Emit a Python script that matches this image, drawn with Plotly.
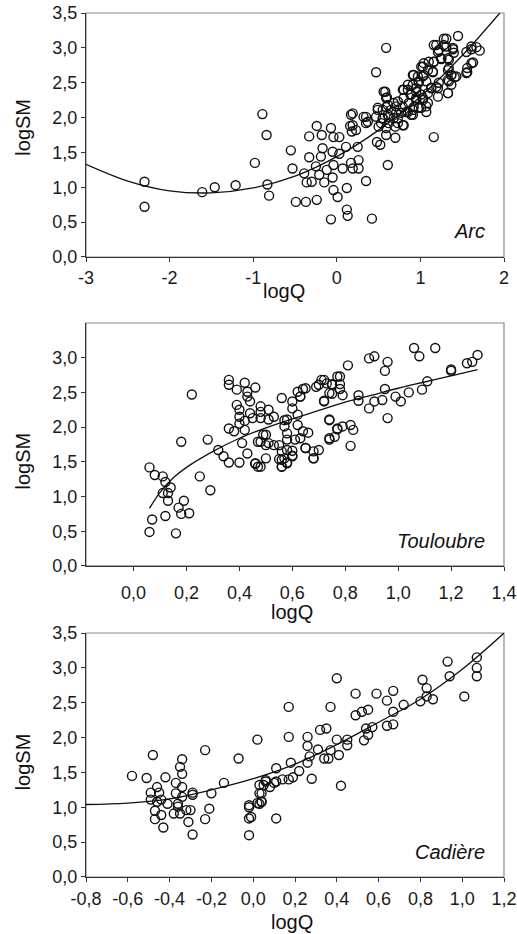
import plotly.graph_objects as go

# ---------------- Arc ----------------
arc_x = [-2.30, -2.30, -1.61, -1.46, -1.21, -0.98, -0.89, -0.84, -0.83, -0.81,
         -0.55, -0.53, -0.49, -0.37, -0.24, -0.39, -0.36, -0.30, -0.33, -0.33,
         -0.24, -0.18, -0.17, -0.19, -0.25, -0.21, -0.15, -0.12, -0.07, -0.04,
         -0.05, -0.04, -0.05, -0.04, 0.01, -0.07, 0.03, 0.03, 0.07, 0.12,
         0.12, 0.13, 0.11, 0.16, 0.18, 0.17, 0.19, 0.25, 0.26, 0.26,
         0.35, 0.42, 0.19, 0.23, 0.32, 0.35, 0.47, 0.59, 0.49, 0.48,
         0.52, 0.61, 0.50, 0.55, 0.58, 0.60, 0.59, 0.61, 0.59, 0.62,
         0.68, 0.71, 0.70, 0.70, 0.73, 0.79, 0.80, 0.80, 0.85, 0.88,
         0.85, 0.91, 0.92, 0.95, 0.92, 0.95, 0.98, 1.03, 1.04, 1.03,
         1.01, 1.07, 1.09, 1.13, 1.15, 1.16, 1.21, 1.16, 1.16, 1.21,
         1.25, 1.28, 1.31, 1.33, 1.34, 1.37, 1.33, 1.37, 1.33, 1.39,
         1.41, 1.45, 1.55, 1.56, 1.61, 1.61, 1.67, 1.71, 1.21,
         1.28, 1.19, 1.22, 1.31, 1.39, 1.40, 1.34, 1.25, 1.16, 1.10,
         1.04, 1.01, 1.09, 1.15, 0.91, 0.97, 1.03, 0.98, 1.07, 1.13,
         1.19, 1.22, 1.33, 1.37, 1.43, 1.34, 1.33, 1.61, 1.63, 1.56,
         1.55, 0.91, 0.85, 0.79, 0.80, 0.89, 0.95, 1.01, 1.03, 0.95,
         1.09, 1.07, 0.98, 0.91, 0.86, 0.73, 0.71, 0.65, 0.56, 0.59,
         0.61, 0.77, 0.83, 0.62, 0.55, 0.49, 0.55, 0.47, 0.35, 0.37,
         0.68, 0.73, 0.79, 0.89, 0.17, 0.19, 0.53, 0.59]
arc_y = [1.08, 0.72, 0.93, 1.00, 1.03, 1.35, 2.05, 1.75, 1.04, 0.88,
         1.53, 1.27, 0.79, 0.79, 0.82, 1.20, 1.07, 1.08, 1.43, 1.73,
         1.88, 1.75, 1.56, 1.44, 1.30, 1.18, 1.07, 1.25, 1.85, 1.72,
         1.51, 1.32, 1.14, 0.96, 0.86, 0.54, 1.72, 1.48, 1.27, 0.99,
         0.68, 0.59, 1.58, 1.88, 1.80, 1.35, 1.27, 1.58, 1.39, 1.27,
         1.09, 0.55, 2.06, 1.82, 2.01, 1.92, 2.65, 3.00, 2.11, 1.65,
         1.61, 1.32, 1.87, 1.99, 2.37, 2.29, 2.15, 2.04, 1.75, 1.92,
         2.21, 2.07, 1.87, 1.71, 1.99, 2.15, 1.89, 2.40, 2.47, 2.33,
         2.08, 2.04, 2.15, 2.28, 2.61, 2.42, 2.50, 2.73, 2.61, 2.28,
         2.14, 2.08, 2.21, 2.42, 2.65, 2.80, 2.42, 1.72, 3.04, 2.94,
         2.85, 3.04, 3.13, 2.85, 2.71, 2.61, 2.54, 2.47, 2.35, 3.00,
         2.58, 3.17, 2.94, 2.65, 2.78, 2.98, 3.01, 2.96, 2.30,
         3.13, 3.04, 2.97, 3.02, 2.98, 2.93, 2.83, 2.84, 2.80, 2.80,
         2.78, 2.73, 2.68, 2.66, 2.61, 2.59, 2.59, 2.52, 2.52, 2.43,
         2.44, 2.50, 2.68, 2.61, 2.59, 2.52, 2.35, 3.02, 2.79, 2.71,
         2.64, 2.47, 2.40, 2.40, 2.28, 2.33, 2.37, 2.33, 2.25, 2.25,
         2.35, 2.16, 2.14, 2.11, 2.21, 2.23, 2.16, 2.11, 2.37, 2.28,
         2.18, 2.07, 2.08, 2.01, 2.11, 2.14, 1.99, 2.01, 2.01, 1.94,
         1.99, 1.92, 1.89, 2.04, 2.04, 1.89, 1.92, 1.85]
arc_curve_x = [-3.0, -2.5, -2.0, -1.5, -1.0, -0.5, 0.0, 0.5, 1.0, 1.5, 1.95]
arc_curve_y = [1.33, 1.09, 0.95, 0.92, 0.99, 1.16, 1.44, 1.82, 2.30, 2.89, 3.50]

# ---------------- Touloubre ----------------
tou_x = [0.06, 0.08, 0.11, 0.12, 0.14, 0.11, 0.13, 0.13, 0.12, 0.07,
         0.06, 0.16, 0.18, 0.19, 0.17, 0.21, 0.18, 0.22, 0.25, 0.29,
         0.28, 0.32, 0.34, 0.36, 0.40, 0.36, 0.36, 0.39, 0.42, 0.43,
         0.43, 0.44, 0.46, 0.39, 0.40, 0.40, 0.40, 0.42, 0.44, 0.45,
         0.36, 0.38, 0.42, 0.41, 0.43, 0.46, 0.47, 0.47,
         0.48, 0.48, 0.51, 0.51, 0.48, 0.53, 0.56, 0.60, 0.62, 0.63,
         0.65, 0.60, 0.62, 0.57, 0.58, 0.62, 0.57, 0.58, 0.64, 0.66,
         0.63, 0.58, 0.61, 0.50, 0.48, 0.50, 0.53, 0.55, 0.58, 0.60,
         0.56, 0.57, 0.60, 0.55, 0.56, 0.58, 0.65, 0.68, 0.70, 0.68,
         0.50, 0.46, 0.48, 0.74, 0.74, 0.72, 0.70, 0.72, 0.75, 0.77,
         0.74, 0.76, 0.77,
         1.06, 1.08, 1.14, 1.30, 1.28, 1.26, 1.20, 1.20, 1.11, 1.09,
         1.04, 1.01, 0.99, 0.96, 0.95, 0.89, 0.91, 0.81, 0.96, 0.95,
         0.94, 0.91, 0.89, 0.85, 0.85, 0.78, 0.78, 0.78, 0.75, 0.73,
         0.71, 0.69, 0.75, 0.79, 0.72, 0.64, 0.63, 0.74, 0.82, 0.83,
         0.79, 0.77, 0.74, 0.82, 0.65, 0.68, 0.49, 0.51, 0.56, 0.56,
         0.58, 0.60]
tou_y = [1.42, 1.31, 1.29, 1.21, 1.13, 1.05, 1.05, 0.94, 0.72, 0.67,
         0.49, 0.47, 0.75, 0.94, 0.84, 0.76, 1.79, 2.47, 1.29, 1.09,
         1.82, 1.67, 1.58, 1.49, 1.49, 2.68, 2.61, 2.54, 2.64, 2.51,
         2.44, 2.37, 2.57, 2.32, 2.25, 2.15, 2.05, 2.09, 2.20, 2.13,
         1.98, 1.94, 1.96, 1.77, 1.62, 1.47, 1.43, 1.79,
         2.30, 2.22, 2.25, 2.11, 2.13, 2.15, 2.42, 2.37, 2.51, 2.44,
         2.56, 2.27, 2.18, 2.10, 2.11, 2.03, 2.01, 1.91, 1.94, 1.92,
         1.84, 1.82, 1.82, 1.89, 1.79, 1.74, 1.74, 1.74, 1.67, 1.66,
         1.65, 1.55, 1.58, 1.54, 1.43, 1.48, 1.70, 1.65, 1.67, 1.55,
         1.55, 1.48, 1.43, 2.10, 2.49, 2.37, 2.61, 2.68, 2.61, 2.73,
         1.84, 1.86, 1.98,
         3.14, 3.02, 3.14, 3.04, 2.94, 2.92, 2.83, 2.81, 2.66, 2.54,
         2.50, 2.37, 2.44, 2.94, 2.81, 2.99, 3.02, 2.89, 2.13, 2.55,
         2.39, 2.37, 2.27, 2.46, 2.38, 2.73, 2.62, 2.55, 2.62, 2.63,
         2.68, 2.58, 2.48, 2.46, 2.38, 2.55, 2.44, 2.11, 2.03, 1.96,
         2.01, 1.97, 1.82, 1.73, 1.70, 1.55, 1.89, 1.77, 1.53, 1.43,
         1.49, 1.59]
tou_curve_x = [0.06, 0.10, 0.15, 0.20, 0.30, 0.40, 0.50, 0.60, 0.70, 0.80,
               0.90, 1.00, 1.10, 1.20, 1.30]
tou_curve_y = [0.83, 1.06, 1.27, 1.42, 1.65, 1.84, 1.99, 2.12, 2.24, 2.36,
               2.46, 2.56, 2.65, 2.74, 2.83]

# ---------------- Cadière ----------------
cad_x = [-0.58, -0.51, -0.48, -0.49, -0.49, -0.46, -0.45, -0.46, -0.47, -0.47,
         -0.44, -0.44, -0.43, -0.42, -0.41, -0.37, -0.37, -0.38, -0.36, -0.36,
         -0.35, -0.34, -0.35, -0.34, -0.34, -0.34, -0.32, -0.31, -0.30, -0.29,
         -0.29, -0.29, -0.23, -0.23, -0.21, -0.20, -0.14, -0.07, 0.02, -0.02,
         -0.02, -0.02, -0.02, 0.02, 0.03, 0.03, 0.05, 0.04, 0.04, 0.03,
         0.06, 0.11, -0.01, 0.04, 0.06, 0.08, 0.10, 0.11, 0.11, 0.14,
         0.17, 0.18, 0.19, 0.22, 0.17, 0.17, 0.28, 0.26, 0.27, 0.26,
         0.26, 0.31, 0.32, 0.35, 0.34, 0.36, 0.37, 0.41, 0.37, 0.40,
         0.40, 0.42, 0.45, 0.45, 0.49, 0.49, 0.52, 0.55, 0.53, 0.55,
         0.54, 0.57, 0.59, 0.64, 0.67, 0.67, 0.64, 0.67, 0.72, 0.80,
         0.81, 0.83, 0.83, 0.86, 0.93, 0.94, 1.01, 1.07, 1.07, 1.07]
cad_y = [1.45, 1.42, 1.75, 1.21, 1.11, 1.29, 1.21, 1.08, 0.95, 0.83,
         1.11, 0.89, 0.71, 1.43, 1.05, 1.35, 1.20, 0.91, 1.05, 1.01,
         0.91, 1.69, 1.58, 1.48, 1.29, 1.15, 0.96, 0.79, 0.96, 1.21,
         1.18, 0.61, 1.82, 0.83, 0.98, 1.20, 1.35, 1.70, 1.97, 0.60,
         1.03, 1.00, 0.84, 1.06, 1.20, 1.32, 1.32, 1.20, 1.08, 1.05,
         1.39, 0.84, 0.86, 1.08, 1.37, 1.29, 1.35, 1.37, 1.56, 1.40,
         1.40, 1.64, 1.43, 1.52, 2.44, 2.01, 1.41, 1.64, 1.73, 1.88,
         2.01, 1.83, 2.11, 2.13, 1.70, 1.70, 1.82, 1.75, 2.44, 2.85,
         1.97, 1.31, 1.89, 1.97, 2.63, 2.32, 2.37, 2.40, 1.96, 2.04,
         2.13, 2.15, 2.63, 2.53, 2.67, 2.37, 2.17, 2.19, 2.47, 2.52,
         2.83, 2.71, 2.59, 2.55, 3.09, 2.88, 2.59, 3.15, 3.00, 2.88]
cad_curve_x = [-0.8, -0.6, -0.4, -0.2, 0.0, 0.2, 0.4, 0.6, 0.8, 1.0, 1.2]
cad_curve_y = [1.04, 1.06, 1.12, 1.25, 1.41, 1.62, 1.90, 2.22, 2.55, 2.98, 3.50]

# ---------------- tick labels ----------------
y_tickvals = [0.0, 0.5, 1.0, 1.5, 2.0, 2.5, 3.0, 3.5]
y_ticktext = ["0,0", "0,5", "1,0", "1,5", "2,0", "2,5", "3,0", "3,5"]
y2_tickvals = [0.0, 0.5, 1.0, 1.5, 2.0, 2.5, 3.0]
y2_ticktext = ["0,0", "0,5", "1,0", "1,5", "2,0", "2,5", "3,0"]
x1_tickvals = [-3, -2, -1, 0, 1, 2]
x1_ticktext = ["-3", "-2", "-1", "0", "1", "2"]
x2_tickvals = [0.0, 0.2, 0.4, 0.6, 0.8, 1.0, 1.2, 1.4]
x2_ticktext = ["0,0", "0,2", "0,4", "0,6", "0,8", "1,0", "1,2", "1,4"]
x3_tickvals = [-0.8, -0.6, -0.4, -0.2, 0.0, 0.2, 0.4, 0.6, 0.8, 1.0, 1.2]
x3_ticktext = ["-0,8", "-0,6", "-0,4", "-0,2", "0,0", "0,2", "0,4", "0,6",
               "0,8", "1,0", "1,2"]
panel_names = ["Arc", "Touloubre", "Cadière"]
x_title = "logQ"
y_title = "logSM"

FONT = "Liberation Sans, Arial, sans-serif"
marker = dict(symbol="circle-open", size=9, color="#111111", line=dict(width=1.4))
curve_line = dict(color="#111111", width=1.3, shape="spline")

fig = go.Figure()
axes = [("x", "y"), ("x2", "y2"), ("x3", "y3")]
panels = [
    (arc_x, arc_y, arc_curve_x, arc_curve_y),
    (tou_x, tou_y, tou_curve_x, tou_curve_y),
    (cad_x, cad_y, cad_curve_x, cad_curve_y),
]
for (px_, py_, cx, cy), (xa, ya) in zip(panels, axes):
    fig.add_trace(go.Scatter(x=cx, y=cy, mode="lines", line=curve_line,
                             xaxis=xa, yaxis=ya, showlegend=False, hoverinfo="skip"))
    fig.add_trace(go.Scatter(x=px_, y=py_, mode="markers", marker=marker,
                             xaxis=xa, yaxis=ya, showlegend=False))

tickfont = dict(family=FONT, size=18, color="#1a1a1a")
titlefont = dict(family=FONT, size=20, color="#111111")

def xaxis(rng, tv, tt, anchor, standoff):
    return dict(range=rng, tickvals=tv, ticktext=tt, anchor=anchor,
                showline=True, linecolor="#333333", linewidth=1.2,
                ticks="outside", ticklen=4, tickcolor="#333333",
                showgrid=False, zeroline=False, tickfont=tickfont,
                ticklabelstandoff=standoff, ticklabeloverflow="allow",
                automargin=False, domain=[0, 1])

def yaxis(dom, tv, tt, anchor):
    return dict(range=[0, 3.5], tickvals=tv, ticktext=tt, anchor=anchor,
                showline=True, linecolor="#333333", linewidth=1.2,
                ticks="outside", ticklen=4, tickcolor="#333333",
                showgrid=False, zeroline=False, tickfont=tickfont,
                ticklabeloverflow="allow", automargin=False, domain=dom)

fig.update_layout(
    width=517, height=934,
    margin=dict(l=86, r=13, t=13, b=57, autoexpand=False),
    paper_bgcolor="white", plot_bgcolor="white",
    font=dict(family=FONT),
    xaxis=xaxis([-3, 2], x1_tickvals, x1_ticktext, "y", 0),
    yaxis=yaxis([0.7176, 1.0], y_tickvals, y_ticktext, "x"),
    xaxis2=xaxis([-0.18, 1.4], x2_tickvals, x2_ticktext, "y2", 6),
    yaxis2=yaxis([0.3600, 0.6412], y2_tickvals, y2_ticktext, "x2"),
    xaxis3=xaxis([-0.8, 1.2], x3_tickvals, x3_ticktext, "y3", 1),
    yaxis3=yaxis([0.0, 0.2824], y_tickvals, y_ticktext, "x3"),
)

# grey frame (top and right sides)
for xa, ya in axes:
    fig.add_shape(type="rect", xref=f"{xa} domain", yref=f"{ya} domain",
                  x0=0, x1=1, y0=0, y1=1, line=dict(color="#8a8a8a", width=1.2),
                  layer="below")

# axis titles placed as annotations
x_title_pos = [(0.474, -34), (0.492, -46), (0.492, -45)]
y_title_pos = [0.53, 0.43, 0.47]
for (xa, ya), (tx, ty), yy in zip(axes, x_title_pos, y_title_pos):
    fig.add_annotation(text=x_title, xref=f"{xa} domain", yref=f"{ya} domain",
                       x=tx, y=0, yshift=ty, xanchor="center", yanchor="middle",
                       showarrow=False, font=titlefont)
    fig.add_annotation(text=y_title, xref="paper", yref=f"{ya} domain",
                       x=0, xshift=-63, y=yy, xanchor="center", yanchor="middle",
                       textangle=-90, showarrow=False, font=titlefont)

label_y = [0.107, 0.103, 0.104]
for name, (xa, ya), ly in zip(panel_names, axes, label_y):
    fig.add_annotation(text=f"<i>{name}</i>", xref=f"{xa} domain", yref=f"{ya} domain",
                       x=0.96, y=ly, xanchor="right", yanchor="middle", showarrow=False,
                       font=dict(family=FONT, size=20, color="#111111"))

fig.write_html(
    "out.html",
    config={"displayModeBar": False},
    post_script="document.body.style.margin='0';document.body.style.overflow='hidden';",
)
